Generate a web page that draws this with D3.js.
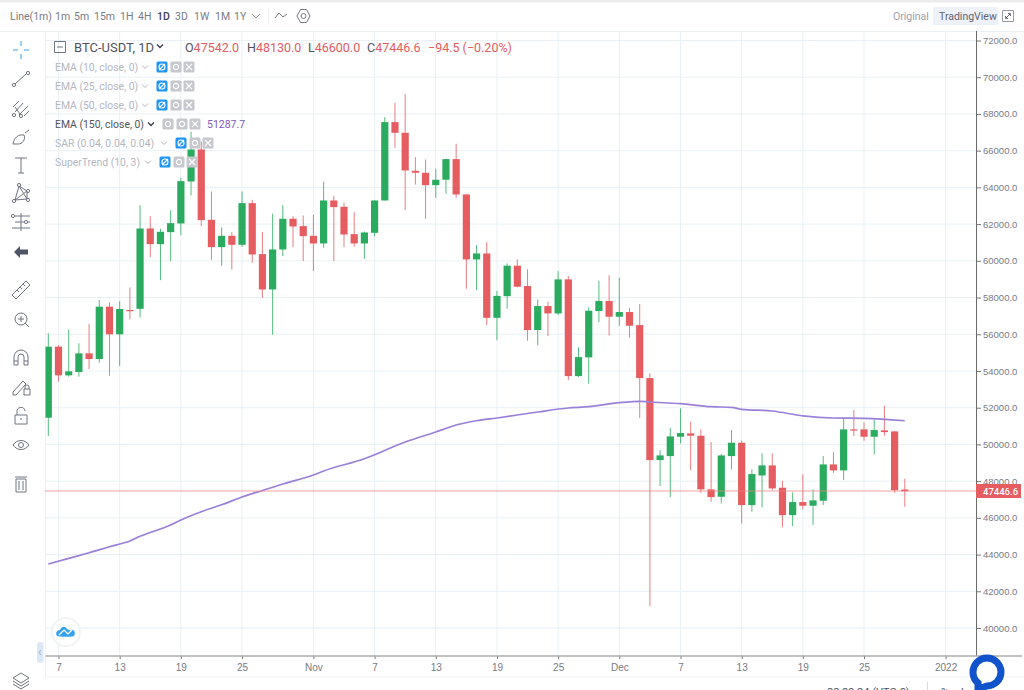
<!DOCTYPE html>
<html lang="en">
<head>
<meta charset="UTF-8">
<title>BTC-USDT, 1D</title>
<style>
  html, body { margin: 0; padding: 0; background: #fff; overflow: hidden; }
  svg { display: block; font-family: Roboto, sans-serif; }
</style>
</head>
<body>
<svg id="chart" width="1024" height="690"></svg>
<script src="https://d3js.org/d3.v7.min.js"></script>
<script>
// daily candles, 6 Oct to 29 Dec 2021
const days = [
  "Oct 6","Oct 7","Oct 8","Oct 9","Oct 10","Oct 11","Oct 12","Oct 13","Oct 14","Oct 15","Oct 16","Oct 17","Oct 18",
  "Oct 19","Oct 20","Oct 21","Oct 22","Oct 23","Oct 24","Oct 25","Oct 26","Oct 27","Oct 28","Oct 29","Oct 30","Oct 31",
  "Nov 1","Nov 2","Nov 3","Nov 4","Nov 5","Nov 6","Nov 7","Nov 8","Nov 9","Nov 10","Nov 11","Nov 12","Nov 13","Nov 14","Nov 15",
  "Nov 16","Nov 17","Nov 18","Nov 19","Nov 20","Nov 21","Nov 22","Nov 23","Nov 24","Nov 25","Nov 26","Nov 27","Nov 28","Nov 29","Nov 30",
  "Dec 1","Dec 2","Dec 3","Dec 4","Dec 5","Dec 6","Dec 7","Dec 8","Dec 9","Dec 10","Dec 11","Dec 12","Dec 13","Dec 14","Dec 15",
  "Dec 16","Dec 17","Dec 18","Dec 19","Dec 20","Dec 21","Dec 22","Dec 23","Dec 24","Dec 25","Dec 26","Dec 27","Dec 28","Dec 29"
];
const opens = [
  51454,55323,53761,53943,54960,54650,57502,55995,57320,57385,61761,60908,61562,
  62034,64322,66065,62234,60744,61362,60872,63142,60363,58440,60617,62290,61890,
  61362,60945,63287,62942,61452,60945,61525,63287,67555,66973,64904,64795,64120,64415,65540,
  63615,60075,60400,56895,58075,59733,58625,56228,57536,57136,58989,53722,54739,57264,57810,
  56955,57209,56500,53613,49146,49364,50418,50600,50472,47550,47149,49364,50090,46695,48311,
  48856,47640,46150,46858,46659,46932,48910,48584,50817,50817,50418,50763,50708,47542
];
const highs = [
  56050,55400,56267,55504,56555,57865,57740,57810,58550,63033,62430,61743,62760,
  64522,67028,66500,63776,61816,61562,63776,63320,61562,62560,63033,62430,62470,
  62500,64304,63540,63160,62650,61600,63300,67830,68607,69080,65647,65520,65012,65560,66375,
  63630,60855,61017,58365,59860,60078,59533,57899,57772,59442,59170,55284,57463,58915,59206,
  59079,57427,57645,53870,49690,50890,51960,51235,50817,50127,49473,50780,50200,48638,49510,
  49510,48020,47385,48366,47550,49365,49580,51435,51870,51199,51360,52106,50720,48130
];
const lows = [
  50455,53416,53690,53690,54100,54450,53740,54270,56810,56910,60200,58946,59982,
  61396,63560,61888,60054,59727,59527,60760,59890,57985,55970,60255,60744,59982,
  59437,60710,59982,60744,60760,60108,61340,63280,66155,62760,64155,62290,63430,63650,63430,
  58475,58400,56495,55675,57390,58553,55647,55393,55900,57045,53504,53667,53305,56664,55938,
  56464,55810,51434,41200,47730,47130,50054,48600,47367,46876,46786,48638,45696,46332,46568,
  47512,45478,45550,46459,45605,46695,48456,48057,50454,50200,49455,50472,47367,46600
];
const closes = [
  55323,53761,53980,54960,54650,57502,55995,57375,57260,61761,60908,61580,62052,
  64340,66065,62216,60744,61362,60872,63142,60345,58440,60617,62290,61870,61345,
  60945,63287,62924,61434,60945,61543,63287,67555,66973,64921,64795,64120,64415,65540,63615,
  60075,60400,56895,58090,59733,58589,56228,57536,57136,58989,53722,54757,57282,57810,56955,
  57209,56464,53613,49146,49400,50436,50617,50472,47550,47130,49400,50090,46695,48384,48856,
  47603,46150,46858,46659,46950,48910,48584,50817,50780,50418,50780,50672,47512,47446.6
];

// EMA 150, read at these days (counted from 7 Oct)
const emaDays = [-1,1,3,5,7,8,11,12,14,16,18,20,22,25,26,30,34,37,39,41,43,47,50,52,55,57,58,61,64,66,67,70,73,76,79,83];
const emaValues = [
  43485,43795,44100,44427,44738,44994,45609,45882,46334,46710,47134,47488,47843,48333,48551,49221,50130,50675,
  51056,51290,51438,51764,51982,52053,52271,52347,52309,52216,52053,52020,51911,51819,51557,51438,51421,51288
];

const yTicks = d3.range(40000, 72001, 2000);
const xTickDays = [0,6,12,18,25,31,37,43,49,55,61,67,73,79,87];
const xTickLabels = ["7","13","19","25","Nov","7","13","19","25","Dec","7","13","19","25","2022"];

const green = "#2bab60", red = "#e55c61", purple = "#9b80d9";
const gridColor = "#e9f1f5", textColor = "#787b86";

const svg = d3.select("#chart");
const x = d3.scaleLinear().domain([-1, 87]).range([48.3, 945.6]);
const y = d3.scaleLinear().domain([40000, 72000]).range([628, 40.5]);

const plotLeft = 45.5, plotRight = 976, plotTop = 31, plotBottom = 656;

svg.append("clipPath").attr("id", "plot").append("rect")
  .attr("x", plotLeft).attr("y", plotTop)
  .attr("width", plotRight - plotLeft).attr("height", plotBottom - plotTop);

// page frame
svg.append("rect").attr("width", 1024).attr("height", 2.5).attr("fill", "#ececec");
svg.append("line").attr("x1", 0).attr("x2", 1024).attr("y1", 31.5).attr("y2", 31.5).attr("stroke", "#eef1f4");
svg.append("line").attr("x1", 45.5).attr("x2", 45.5).attr("y1", 31).attr("y2", 677).attr("stroke", "#eef1f4");
svg.append("line").attr("x1", 45).attr("x2", 1024).attr("y1", 677).attr("y2", 677).attr("stroke", "#eef1f4");

// grid
svg.append("g").selectAll("line").data(yTicks).join("line")
  .attr("x1", plotLeft).attr("x2", plotRight)
  .attr("y1", d => y(d)).attr("y2", d => y(d))
  .attr("stroke", gridColor);
svg.append("g").selectAll("line").data(xTickDays).join("line")
  .attr("x1", d => x(d)).attr("x2", d => x(d))
  .attr("y1", plotTop).attr("y2", plotBottom)
  .attr("stroke", gridColor);

// candles
const candles = svg.append("g").attr("clip-path", "url(#plot)");
const colorOf = i => closes[i] >= opens[i] ? green : red;

candles.selectAll(".wick").data(days).join("line").attr("class", "wick")
  .attr("x1", (d, i) => x(i - 1)).attr("x2", (d, i) => x(i - 1))
  .attr("y1", (d, i) => y(highs[i])).attr("y2", (d, i) => y(lows[i]))
  .attr("stroke", (d, i) => colorOf(i)).attr("stroke-opacity", 0.8).attr("stroke-width", 1);

candles.selectAll(".body").data(days).join("rect").attr("class", "body")
  .attr("x", (d, i) => x(i - 1) - 3.6).attr("width", 7.2)
  .attr("y", (d, i) => y(Math.max(opens[i], closes[i])))
  .attr("height", (d, i) => Math.max(1.2, Math.abs(y(opens[i]) - y(closes[i]))))
  .attr("fill", (d, i) => colorOf(i));

// EMA line
const emaLine = d3.line().x((d, i) => x(emaDays[i])).y(d => y(d)).curve(d3.curveMonotoneX);
candles.append("path").datum(emaValues)
  .attr("d", emaLine).attr("fill", "none").attr("stroke", purple).attr("stroke-width", 1.7);

// last price line
const lastPrice = closes[closes.length - 1];
const lastY = Math.round(y(lastPrice));
svg.append("line")
  .attr("x1", plotLeft).attr("x2", plotRight)
  .attr("y1", lastY).attr("y2", lastY)
  .attr("stroke", "#ef7f83").attr("stroke-width", 1.5).attr("stroke-dasharray", "1 1");

// right axis
const yAxis = d3.axisRight(y).tickValues(yTicks).tickSize(5).tickPadding(2)
  .tickFormat(d => d3.format(".1f")(d));
const yg = svg.append("g").attr("transform", `translate(${plotRight},0)`).call(yAxis);
yg.select(".domain").remove();
yg.selectAll("line").attr("stroke", "#777");
yg.selectAll("text").attr("fill", textColor).attr("font-size", 9.5);
svg.append("line").attr("x1", plotRight + 0.5).attr("x2", plotRight + 0.5)
  .attr("y1", plotTop).attr("y2", plotBottom).attr("stroke", "#6b6b6b");

// bottom axis
const xAxis = d3.axisBottom(x).tickValues(xTickDays).tickSize(3).tickPadding(5)
  .tickFormat((d, i) => xTickLabels[i]);
const xg = svg.append("g").attr("transform", `translate(0,${plotBottom})`).call(xAxis);
xg.select(".domain").remove();
xg.selectAll("line").attr("stroke", "#777");
xg.selectAll("text").attr("fill", textColor).attr("font-size", 10)
  .attr("font-weight", (d, i) => xTickLabels[i] === "2022" ? 500 : 400);
svg.append("line").attr("x1", plotLeft).attr("x2", 1022)
  .attr("y1", plotBottom).attr("y2", plotBottom)
  .attr("stroke", "#adadad").attr("stroke-width", 1.6);

// price tag
const tag = svg.append("g").attr("transform", `translate(${plotRight},${lastY})`);
tag.append("rect").attr("x", 0).attr("y", -7).attr("width", 45).attr("height", 14).attr("fill", red);
tag.append("text").attr("x", 7).attr("y", 3.5).attr("fill", "#fff").attr("font-size", 9.5).attr("font-weight", 500)
  .text(d3.format(".1f")(lastPrice));

// top toolbar
const periods = ["Line(1m)","1m","5m","15m","1H","4H","1D","3D","1W","1M","1Y"];
const periodX = [10,55,74,94,120,138,157,175,194,215,234];
svg.append("g").selectAll("text").data(periods).join("text")
  .attr("x", (d, i) => periodX[i]).attr("y", 19.5)
  .attr("font-size", 10.5)
  .attr("fill", d => d === "1D" ? "#3a3e4a" : "#787b86")
  .attr("font-weight", d => d === "1D" ? 500 : 400)
  .text(d => d);

function icon(px, py, d, color = "#6f7480", width = 1) {
  return svg.append("path").attr("transform", `translate(${px},${py})`).attr("d", d)
    .attr("fill", "none").attr("stroke", color).attr("stroke-width", width);
}
icon(256, 16, "M-4 -2L0 2L4 -2", "#9a9ea8");
svg.append("line").attr("x1", 268.5).attr("x2", 268.5).attr("y1", 8).attr("y2", 24).attr("stroke", "#eceef1");
icon(281, 16, "M-6 2L-2 -3L2 1L6 -2", "#787b86");
icon(303.5, 16, "M-3 -6.5H3L6.5 0L3 6.5H-3L-6.5 0Z M2.5 0A2.5 2.5 0 1 1 -2.5 0A2.5 2.5 0 1 1 2.5 0", "#787b86");

svg.append("text").attr("x", 893).attr("y", 19.5).attr("font-size", 10.5).attr("fill", "#9a9ea8").text("Original");
svg.append("rect").attr("x", 933).attr("y", 7).attr("width", 65).attr("height", 18).attr("rx", 2).attr("fill", "#eef1f8");
svg.append("text").attr("x", 939).attr("y", 19.5).attr("font-size", 10.5).attr("fill", "#5f6370").text("TradingView");
icon(1008, 16, "M-5.5 -5.5H5.5V5.5H-5.5Z", "#9a9ea8");
icon(1008, 16, "M-2.5 2.5L2.5 -2.5M0 -2.5H2.5V0M-2.5 0V2.5H0", "#787b86");

// legend
icon(60, 47, "M-5.5 -5.5H5.5V5.5H-5.5Z M-3 0H3", "#6f7480");
svg.append("text").attr("x", 74).attr("y", 51.5).attr("font-size", 13).attr("fill", "#50535e").text("BTC-USDT, 1D");
icon(160, 46, "M-3 -1.5L0 1.5L3 -1.5", "#3a3e4a", 1.4);

const ohlcText = [["O","47542.0",185],["H","48130.0",247],["L","46600.0",308],["C","47446.6",367]];
ohlcText.forEach(([k, v, px]) => {
  const t = svg.append("text").attr("x", px).attr("y", 51.5).attr("font-size", 12.5);
  t.append("tspan").attr("fill", "#50535e").text(k);
  t.append("tspan").attr("fill", red).text(v);
});
svg.append("text").attr("x", 428).attr("y", 51.5).attr("font-size", 12.5).attr("fill", red).text("\u221294.5 (\u22120.20%)");

const legendRows = ["EMA (10, close, 0)","EMA (25, close, 0)","EMA (50, close, 0)","EMA (150, close, 0)","SAR (0.04, 0.04, 0.04)","SuperTrend (10, 3)"];
const legendY = [67,86,105,124,143,162];
const legendButtons = [162,162,162,168,181,165];
const legendHidden = [true,true,true,false,true,true];

legendRows.forEach((label, i) => {
  const ry = legendY[i], hidden = legendHidden[i], bx = legendButtons[i];
  svg.append("text").attr("x", 55).attr("y", ry + 4).attr("font-size", 10.4)
    .attr("fill", hidden ? "#b4b7bf" : "#50535e").text(label);
  icon(bx - 17, ry, "M-3 -1.5L0 1.5L3 -1.5", hidden ? "#b4b7bf" : "#3a3e4a", hidden ? 1 : 1.4);
  [0, 14, 27].forEach((dx, k) => {
    const cx = bx + dx;
    svg.append("rect").attr("x", cx - 5.5).attr("y", ry - 5.5).attr("width", 11).attr("height", 11).attr("rx", 1.5)
      .attr("fill", hidden && k === 0 ? "#1f96f3" : "#c6c8ce");
    if (k === 2) icon(cx, ry, "M-3 -3L3 3M3 -3L-3 3", "#fff", 1.2);
    else if (k === 0 && hidden) icon(cx, ry, "M3 0A3 3 0 1 1 -3 0A3 3 0 1 1 3 0 M-3 3L3 -3", "#fff", 1.1);
    else icon(cx, ry, "M2.6 0A2.6 2.6 0 1 1 -2.6 0A2.6 2.6 0 1 1 2.6 0", "#fff", 1.2);
  });
});
svg.append("text").attr("x", 207).attr("y", 128).attr("font-size", 10.5).attr("fill", "#7e57c2").text("51287.7");

// left tool icons
const dot = (cx, cy) => `M${cx + 1.6} ${cy}A1.6 1.6 0 1 1 ${cx - 1.6} ${cy}A1.6 1.6 0 1 1 ${cx + 1.6} ${cy}`;
const toolIcons = [
  [50, "M-8 0H-3M3 0H8M0 -9V-4M0 4V9", "#35a2ec"],
  [79, "M-6 5L5 -5" + dot(-7, 6) + dot(7, -6)],
  [109, "M-8 -2L-2 -8M-6 3L2 -6M-2 6L7 -3M3 7L8 2" + dot(-7, 6) + dot(0, 7) + "M-6 -2L-1 5"],
  [138, "M-8 6C-7 0 -3 -4 3 -3C5 2 1 6 -3 6Z M4 -5L8 -8"],
  [165, "M-6 -7H6M0 -7V8M-3 8H3"],
  [193, "M-6 7L-2 -7L6 -2L6 6L-2 -7M-6 7L6 -2M-6 7L6 6" + dot(-7, 8) + dot(-2, -8) + dot(7, -2) + dot(7, 7)],
  [222, "M-6 -6H9M-6 0H3M6 0H9M-9 6H9M0 -9V9" + dot(-8, -6) + dot(5, 0)],
  [290, "M-9 5L5 -9L9 -5L-5 9Z M-4 0L-2 2M-1 -3L1 -1M2 -6L4 -4"],
  [319, "M6 0A6 6 0 1 1 -6 0A6 6 0 1 1 6 0 M4 4L8 8M-3 0H3M0 -3V3"],
  [358, "M-7 7V-1A7 7 0 0 1 7 -1V7H3V-1A3 3 0 0 0 -3 -1V7Z M-7 3H-3M3 3H7"],
  [387, "M-8 5L2 -6L5 -3L-5 8L-8 8Z M3 2H9V8H3Z M4 2V0A2 2 0 0 1 8 0V2"],
  [416, "M-6 -1H6V8H-6Z M-4 -1V-4A4 4 0 0 1 4 -5 M-1 3H1"],
  [445, "M-8 0C-4 -6 4 -6 8 0C4 6 -4 6 -8 0Z M2.5 0A2.5 2.5 0 1 1 -2.5 0A2.5 2.5 0 1 1 2.5 0"],
  [484, "M-5 -5H5V8H-5Z M-6 -7H6M-2 -3V6M2 -3V6"],
  [680, "M0 -7L8 -2L0 3L-8 -2Z M-8 1L0 6L8 1 M-8 4L0 9L8 4"]
];
toolIcons.forEach(([py, d, color]) => icon(21, py, d, color || "#6f7480"));
svg.append("path").attr("transform", "translate(21,252)")
  .attr("d", "M-7 0L-1 -6V-2.5H7V2.5H-1V6Z").attr("fill", "#4e5564");

// collapse handle
svg.append("rect").attr("x", 37).attr("y", 642).attr("width", 6.5).attr("height", 21).attr("rx", 3).attr("fill", "#dbe7f7");
icon(40, 652.5, "M1 -2.5L-1 0L1 2.5", "#9cb0c9");

// logo
svg.append("circle").attr("cx", 66).attr("cy", 632).attr("r", 14).attr("fill", "#fff").attr("stroke", "#eef0f2").attr("stroke-width", 1.4);
svg.append("path").attr("transform", "translate(66,632)")
  .attr("d", "M-9 4C-11 1 -9 -2 -6 -2C-4 -6 -1 -6 1 -3C3 -2 4 -1 5 -2C8 -3 10 1 8 4C7 5 -7 5 -9 4Z").attr("fill", "#35a2ec");
icon(66, 632, "M-7 3L-2 -2L2 2L6 -2", "#fff", 1.2);

// chat bubble
svg.append("path").attr("transform", "translate(987,672)")
  .attr("d", "M-14 0A14 14 0 1 1 0 14L-9 17L-9 11A14 14 0 0 1 -14 0Z")
  .attr("fill", "#fff").attr("stroke", "#1253cc").attr("stroke-width", 7);

// footer, cut by the window edge
svg.append("text").attr("x", 827).attr("y", 696).attr("font-size", 11).attr("fill", "#50535e").text("22:09:24 (UTC-8)");
svg.append("line").attr("x1", 927.5).attr("x2", 927.5).attr("y1", 682).attr("y2", 690).attr("stroke", "#d8dade");
svg.append("text").attr("x", 941).attr("y", 696).attr("font-size", 11).attr("fill", "#50535e").text("%");
svg.append("text").attr("x", 961).attr("y", 696).attr("font-size", 11).attr("fill", "#50535e").text("log");
</script>
</body>
</html>
